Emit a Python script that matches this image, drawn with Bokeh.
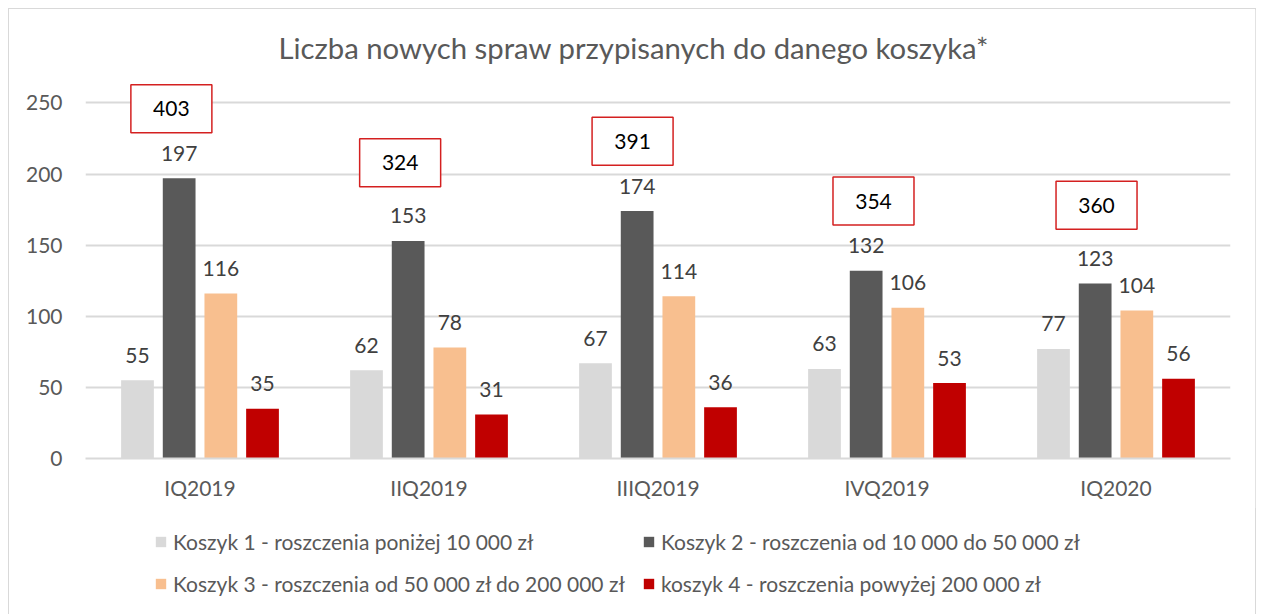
from bokeh.plotting import figure
from bokeh.layouts import column
from bokeh.models import (ColumnDataSource, FactorRange, Range1d, FixedTicker, LabelSet,
                          Legend, LegendItem)
from bokeh.core.properties import value
from bokeh.transform import dodge
from bokeh.embed import file_html
from bokeh.resources import INLINE

# ---- data ----
categories = ["IQ2019", "IIQ2019", "IIIQ2019", "IVQ2019", "IQ2020"]
koszyk1 = [55, 62, 67, 63, 77]
koszyk2 = [197, 153, 174, 132, 123]
koszyk3 = [116, 78, 114, 106, 104]
koszyk4 = [35, 31, 36, 53, 56]
totals = [403, 324, 391, 354, 360]
series_names = [
    "Koszyk 1 - roszczenia poniżej 10 000 zł",
    "Koszyk 2 - roszczenia od 10 000 do 50 000 zł",
    "Koszyk 3 - roszczenia od 50 000 zł do 200 000 zł",
    "koszyk 4 - roszczenia powyżej 200 000 zł",
]
y_ticks = [0, 50, 100, 150, 200, 250]
title_text = "Liczba nowych spraw przypisanych do danego koszyka*"

# ---- layout / style (not data) ----
colors = ["#D9D9D9", "#595959", "#F8BF8F", "#C00000"]
offsets = [-0.273, -0.091, 0.091, 0.273]
bar_w = 0.143
box_dx = [-0.125, -0.126, -0.111, -0.059, -0.085]
box_y = [246, 208, 223, 181, 178]
FONT = "Lato"
TXT = "#595959"

series = [koszyk1, koszyk2, koszyk3, koszyk4]
data = {"cat": categories}
for i, s in enumerate(series):
    data[f"s{i}"] = s
    data[f"t{i}"] = [str(v) for v in s]
src = ColumnDataSource(data)

p = figure(x_range=FactorRange(*categories, range_padding=0),
           y_range=Range1d(0, 270),
           frame_width=1147, frame_height=384,
           min_border_left=76, min_border_right=25,
           min_border_top=65, min_border_bottom=50,
           output_backend="svg", toolbar_location=None,
           background_fill_color="white", border_fill_color="white")
p.outline_line_color = None

p.title.text = title_text
p.title.align = "left"
p.title.offset = 193
p.title.text_font = FONT
p.title.text_font_size = "29.3px"
p.title.text_font_style = "normal"
p.title.text_color = TXT
p.title.standoff = 19

p.xgrid.grid_line_color = None
p.ygrid.grid_line_color = "#D9D9D9"
p.ygrid.grid_line_width = 2
p.yaxis.ticker = FixedTicker(ticks=y_ticks)
p.yaxis.axis_line_color = None
p.yaxis.major_tick_line_color = None
p.yaxis.minor_tick_line_color = None
p.yaxis.major_label_standoff = 17
p.yaxis.major_label_text_font = FONT
p.yaxis.major_label_text_font_size = "21px"
p.yaxis.major_label_text_color = TXT

p.xaxis.axis_line_color = "#D9D9D9"
p.xaxis.axis_line_width = 2
p.xaxis.major_tick_line_color = None
p.xaxis.minor_tick_line_color = None
p.xaxis.major_label_standoff = 10
p.xaxis.major_label_text_font = FONT
p.xaxis.major_label_text_font_size = "21px"
p.xaxis.major_label_text_color = TXT

for i in range(4):
    p.vbar(x=dodge("cat", offsets[i], range=p.x_range), top=f"s{i}", width=bar_w,
           source=src, fill_color=colors[i], line_color=None)
    lbl = LabelSet(x=dodge("cat", offsets[i], range=p.x_range), y=f"s{i}", text=f"t{i}",
                   source=src, y_offset=25, text_align="center", text_baseline="middle",
                   text_font=value(FONT), text_font_size=value("21px"), text_color="#404040")
    p.add_layout(lbl)

box_src = ColumnDataSource({
    "x": [(c, d) for c, d in zip(categories, box_dx)],
    "y": box_y,
    "t": [str(v) for v in totals],
})
p.rect(x="x", y="y", width=81, height=48, width_units="screen", height_units="screen",
       source=box_src, fill_color="white", line_color="#D42020", line_width=1.5)
p.add_layout(LabelSet(x="x", y="y", text="t", source=box_src, text_align="center",
                      text_baseline="middle", text_font=value(FONT),
                      text_font_size=value("21px"), text_color="black"))

# ---- legend in a strip below the chart ----
q = figure(width=1248, height=106, x_range=Range1d(0, 1), y_range=Range1d(0, 1),
           min_border=0, output_backend="svg", toolbar_location=None,
           background_fill_color="white", border_fill_color="white")
q.outline_line_color = None
q.axis.visible = False
q.grid.visible = False
items = []
for i in range(4):
    # swatch-only renderer, its single mark lies outside the visible range
    r = q.rect(x=[-10], y=[-10], width=0.1, height=0.1, fill_color=colors[i], line_color=None)
    items.append(LegendItem(label=series_names[i], renderers=[r]))
legend = Legend(items=items, orientation="horizontal", ncols=2, location=(69, 18),
                glyph_width=13, glyph_height=13, label_standoff=6, spacing=17,
                label_height=25,
                label_text_font=FONT, label_text_font_size="21px", label_text_color=TXT,
                border_line_color=None, background_fill_alpha=0, padding=4, margin=0)
q.add_layout(legend, "center")

layout = column(p, q, spacing=0)
layout.styles = {"margin-left": "8px", "margin-top": "8px",
                 "border-top": "1px solid #D9D9D9", "border-left": "1px solid #D9D9D9",
                 "border-right": "1px solid #D9D9D9", "width": "1248px"}

open("out.html", "w").write(file_html(layout, INLINE))
